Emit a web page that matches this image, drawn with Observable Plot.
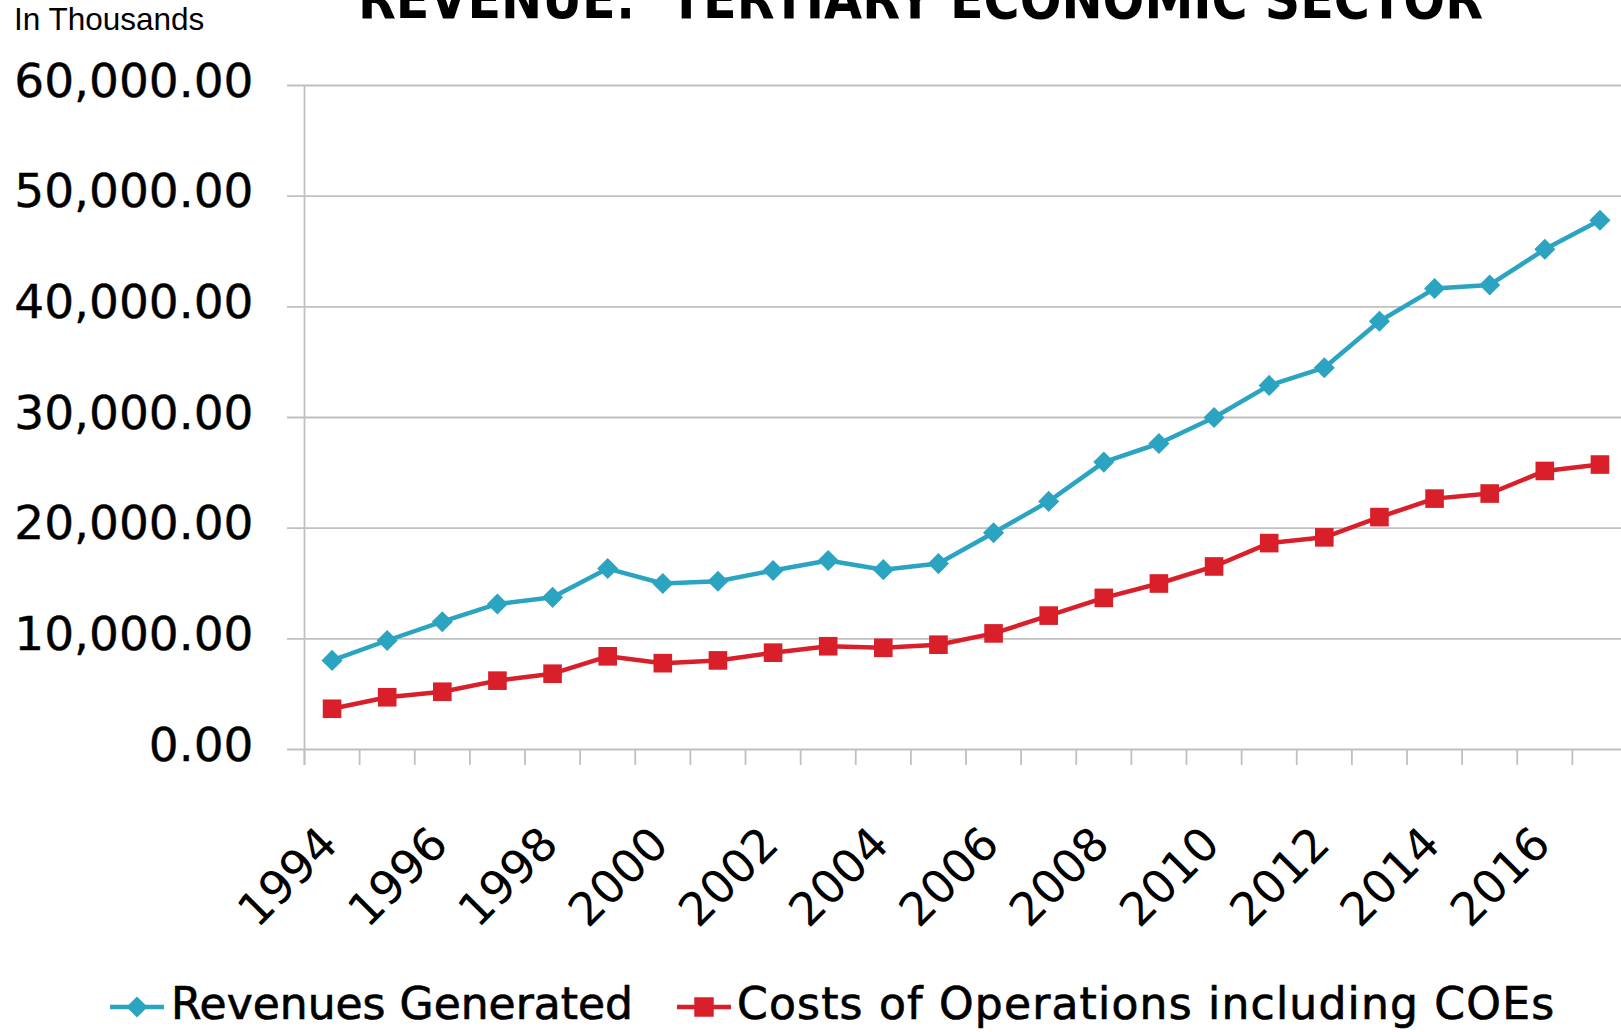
<!DOCTYPE html>
<html>
<head>
<meta charset="utf-8">
<script src="https://cdn.jsdelivr.net/npm/d3@7"></script>
<script src="https://cdn.jsdelivr.net/npm/@observablehq/plot@0.6"></script>
<style>
  html, body { margin: 0; padding: 0; background: #fff; overflow: hidden; }
  #wrap { position: relative; width: 1621px; height: 1032px; overflow: hidden; background: #fff; }
  #chart { position: absolute; left: 0; top: 0; }
  #unit { position: absolute; left: 14px; top: 1px; font: 31.5px "Liberation Sans", Arial, sans-serif; color: #000; line-height: 36px; }
  #title { position: absolute; left: 0; top: 0; }
  .leg { position: absolute; top: 982px; font: 44px "DejaVu Sans", sans-serif; line-height: 44px; color: #000; white-space: nowrap; -webkit-text-stroke: 0.7px #000; }
  .icon { position: absolute; top: 992px; }
</style>
</head>
<body>
<div id="wrap">
  <div id="chart"></div>
</div>
<script>
// ---- data ----
const years = [1994, 1995, 1996, 1997, 1998, 1999, 2000, 2001, 2002, 2003, 2004, 2005,
               2006, 2007, 2008, 2009, 2010, 2011, 2012, 2013, 2014, 2015, 2016, 2017];
const revenues = [8050, 9850, 11550, 13150, 13750, 16350, 15000, 15200, 16180, 17080, 16250, 16800,
                  19580, 22420, 25970, 27650, 30000, 32900, 34500, 38700, 41650, 41980, 45200, 47830];
const costs = [3680, 4720, 5220, 6220, 6850, 8420, 7800, 8050, 8750, 9330, 9190, 9470,
               10490, 12100, 13700, 15000, 16540, 18650, 19170, 21000, 22670, 23130, 25170, 25750];
const seriesNames = ["Revenues Generated", "Costs of Operations including COEs"];
const seriesColors = ["#2ba4c1", "#d81f2a"];
const yTicks = [0, 10000, 20000, 30000, 40000, 50000, 60000];
const xTickLabels = [1994, 1996, 1998, 2000, 2002, 2004, 2006, 2008, 2010, 2012, 2014, 2016];
const titleText = "REVENUE:  TERTIARY ECONOMIC SECTOR";
const unitText = "In Thousands";

// ---- derived tables ----
const revRows = years.map((yr, i) => ({year: yr, value: revenues[i], series: seriesNames[0]}));
const costRows = years.map((yr, i) => ({year: yr, value: costs[i], series: seriesNames[1]}));
const yearEdges = years.map(y => y - 0.5).concat([years[years.length - 1] + 0.5]);
const fmt = d3.format(",.2f");
const grid = "#c0c0c0";

const chart = Plot.plot({
  width: 1621,
  height: 940,
  marginLeft: 304,
  marginRight: 0,
  marginTop: 85,
  marginBottom: 191,
  x: {domain: [yearEdges[0], yearEdges[yearEdges.length - 1]], range: [304, 1627], axis: null},
  y: {domain: [0, 60000], axis: null},
  color: {domain: seriesNames, range: seriesColors},
  style: {fontFamily: "DejaVu Sans", fontSize: "46px", color: "#000", background: "#fff"},
  marks: [
    Plot.ruleY(yTicks, {y: d => d, stroke: grid, strokeWidth: 1.8, insetLeft: -17}),
    Plot.ruleX([yearEdges[0]], {x: d => d, stroke: grid, strokeWidth: 1.8, insetBottom: -16}),
    Plot.ruleX(yearEdges, {x: d => d, y1: 0, y2: 0, stroke: grid, strokeWidth: 1.8, insetBottom: -16}),
    Plot.text(yTicks, {y: d => d, text: d => fmt(d), frameAnchor: "left", textAnchor: "end",
                       dx: -51, dy: -4, fontSize: 47, fill: "#000", stroke: "#000", strokeWidth: 0.4}),
    Plot.text(xTickLabels, {x: d => d, text: d => String(d), frameAnchor: "bottom", rotate: -45,
                            textAnchor: "end", lineAnchor: "bottom", dx: 8, dy: 97, fontSize: 46, fill: "#000"}),
    Plot.line(revRows, {x: "year", y: "value", stroke: "series", strokeWidth: 4.5}),
    Plot.line(costRows, {x: "year", y: "value", stroke: "series", strokeWidth: 4.5}),
    Plot.dot(revRows, {x: "year", y: "value", fill: "series", symbol: "diamond2", r: 9.5}),
    Plot.dot(costRows, {x: "year", y: "value", fill: "series", symbol: "square", r: 10.5})
  ]
});
document.getElementById("chart").appendChild(chart);

const wrap = document.getElementById("wrap");

// title (clipped at the top, as in the reference)
const ns = "http://www.w3.org/2000/svg";
const tsvg = document.createElementNS(ns, "svg");
tsvg.setAttribute("id", "title");
tsvg.setAttribute("width", 1621);
tsvg.setAttribute("height", 40);
const tt = document.createElementNS(ns, "text");
tt.setAttribute("x", 358);
tt.setAttribute("y", 18);
tt.setAttribute("textLength", 1125);
tt.setAttribute("lengthAdjust", "spacingAndGlyphs");
tt.setAttribute("font-family", "DejaVu Sans");
tt.setAttribute("font-weight", "bold");
tt.setAttribute("font-size", 56);
tt.setAttribute("xml:space", "preserve");
tt.style.whiteSpace = "pre";
tt.textContent = titleText;
tsvg.appendChild(tt);
wrap.appendChild(tsvg);

// unit label
const unit = document.createElement("div");
unit.id = "unit";
unit.textContent = unitText;
wrap.appendChild(unit);

// legend
const legendPos = [{icon: 109, text: 171, spacing: 0}, {icon: 676, text: 737, spacing: 1.2}];
seriesNames.forEach((name, i) => {
  const s = document.createElementNS(ns, "svg");
  s.setAttribute("class", "icon");
  s.setAttribute("width", 56);
  s.setAttribute("height", 30);
  s.style.left = legendPos[i].icon + "px";
  const l = document.createElementNS(ns, "line");
  l.setAttribute("x1", 1); l.setAttribute("x2", 55);
  l.setAttribute("y1", 15); l.setAttribute("y2", 15);
  l.setAttribute("stroke", seriesColors[i]); l.setAttribute("stroke-width", 4.5);
  s.appendChild(l);
  const sym = d3.symbol(i === 0 ? d3.symbolDiamond2 : d3.symbolSquare, i === 0 ? 9.5 * 9.5 * Math.PI : 11 * 11 * Math.PI);
  const p = document.createElementNS(ns, "path");
  p.setAttribute("d", sym());
  p.setAttribute("transform", "translate(28,15)");
  p.setAttribute("fill", seriesColors[i]);
  s.appendChild(p);
  wrap.appendChild(s);
  const t = document.createElement("div");
  t.className = "leg";
  t.style.left = legendPos[i].text + "px";
  t.style.letterSpacing = legendPos[i].spacing + "px";
  t.textContent = name;
  wrap.appendChild(t);
});
</script>
</body>
</html>
